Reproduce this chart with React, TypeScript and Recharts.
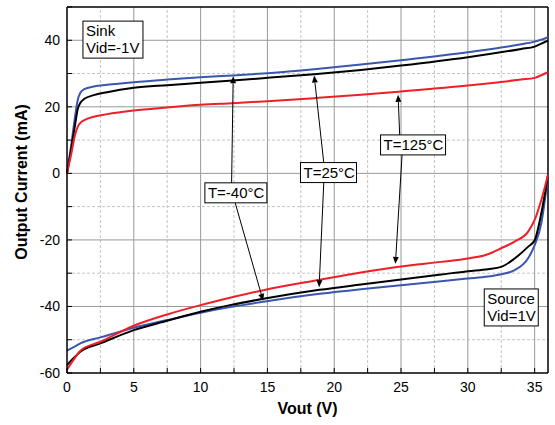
import React from 'react';
import { LineChart, Line, XAxis, YAxis, ReferenceLine, ReferenceDot } from 'recharts';

// Sink branch (Vid=-1V)
const sinkX = [0, 0.3, 0.6, 0.8, 1.0, 1.3, 2, 3, 5, 7.5, 10, 12.4, 15, 18.5, 22, 25, 30, 34, 35, 35.5, 36];
const sinkM40 = [0, 8, 17, 22, 24.2, 25.3, 26.1, 26.6, 27.4, 28.2, 28.9, 29.4, 30.1, 31.3, 32.7, 34, 36.4, 38.8, 39.6, 40.2, 40.9];
const sink25 = [0, 7, 14.5, 19.3, 21.2, 22.4, 23.5, 24.4, 25.7, 26.5, 27.2, 27.9, 28.7, 29.8, 31.1, 32.4, 34.9, 37.4, 38.1, 39, 39.9];
const sink125 = [0, 5.5, 11.5, 14, 15.2, 16, 17, 17.8, 18.9, 19.8, 20.6, 21.1, 21.7, 22.6, 23.6, 24.6, 26.4, 28.2, 28.7, 29.5, 30.4];

// Source branch (Vid=1V)
const sourceX = [0, 0.5, 1, 2.5, 5, 7.5, 10, 12.2, 14.7, 18.9, 22, 25, 28, 30, 31.5, 32.5, 33.5, 34.5, 35, 35.5, 36];
const sourceM40 = [-53.3, -52.2, -51.1, -49.3, -46.4, -44.1, -41.9, -40.2, -38.6, -36.2, -34.8, -33.6, -32.4, -31.6, -31, -30.3, -29.1, -25.6, -21.6, -15, -0.5];
const source25 = [-57.6, -55.5, -53.6, -51.1, -47.1, -44.3, -41.6, -39.6, -37.7, -35, -33.4, -31.9, -30.4, -29.4, -28.8, -28.1, -25.6, -22.1, -20.1, -12, -0.5];
const source125 = [-59, -56, -53.3, -50.6, -45.8, -42.4, -39.6, -37.4, -35.1, -32, -29.8, -28, -26.6, -25.6, -24.3, -22.5, -20.5, -17.6, -14, -8, -0.5];

const xTicks = [0, 2.5, 5, 7.5, 10, 12.5, 15, 17.5, 20, 22.5, 25, 27.5, 30, 32.5, 35];
const yTicks = [-60, -50, -40, -30, -20, -10, 0, 10, 20, 30, 40, 50];
const xMajor = [5, 10, 15, 20, 25, 30, 35];
const xMinor = [2.5, 7.5, 12.5, 17.5, 22.5, 27.5, 32.5];
const yMajor = [-40, -20, 0, 20, 40];
const yMinor = [-50, -30, -10, 10, 30];

const notes = [
  { x: 3.44, y: 40.2, w: 60, lines: ['Sink', 'Vid=-1V'] },
  { x: 33.25, y: -40.3, w: 54, lines: ['Source', 'Vid=1V'] },
  { x: 12.64, y: -5.85, w: 62, lines: ['T=-40°C'] },
  { x: 19.57, y: 0.24, w: 56, lines: ['T=25°C'] },
  { x: 25.9, y: 8.55, w: 65, lines: ['T=125°C'] },
];

const arrows = [
  { from: [12.32, -3.0], to: [12.44, 29.2] },
  { from: [12.57, -8.6], to: [14.68, -38.3] },
  { from: [19.22, 3.1], to: [18.5, 29.4] },
  { from: [19.22, -2.6], to: [18.87, -34.2] },
  { from: [24.9, 11.4], to: [24.78, 23.6] },
  { from: [25.08, 5.7], to: [24.58, -27.2] },
];

const toRows = (xs: number[], ys: number[]) => xs.map((x, i) => ({ x, y: ys[i] }));

const FONT = '"Liberation Sans", Arial, sans-serif';
const BLUE = '#3b56ad';
const RED = '#ee1f26';

const ArrowShape = (p: any) => {
  const { x1, y1, x2, y2 } = p;
  const a = Math.atan2(y2 - y1, x2 - x1);
  const L = 7, W = 3;
  const bx = x2 - L * Math.cos(a), by = y2 - L * Math.sin(a);
  const pts = [
    [x2, y2],
    [bx + W * Math.sin(a), by - W * Math.cos(a)],
    [bx - W * Math.sin(a), by + W * Math.cos(a)],
  ].map((q) => q.join(',')).join(' ');
  return (
    <g>
      <line x1={x1} y1={y1} x2={bx} y2={by} stroke="#000" strokeWidth={1} />
      <polygon points={pts} fill="#000" />
    </g>
  );
};

const boxShape = (note: typeof notes[number]) => (p: any) => {
  const lh = 17;
  const h = note.lines.length * lh + 3;
  const { cx, cy } = p;
  return (
    <g>
      <rect x={cx - note.w / 2} y={cy - h / 2} width={note.w} height={h} fill="#fff" stroke="#000" strokeWidth={1} />
      {note.lines.map((t, i) => (
        <text key={i} x={cx - note.w / 2 + 3} y={cy - h / 2 + 15 + i * lh} fontSize={15} fontFamily={FONT} fill="#000">
          {t}
        </text>
      ))}
    </g>
  );
};

const YTitle = (p: any) => {
  const vb = p.viewBox;
  const cx = vb.x + 10;
  const cy = vb.y + vb.height / 2 - 8;
  return (
    <text x={cx} y={cy} transform={`rotate(-90, ${cx}, ${cy})`} textAnchor="middle" fontSize={16} fontWeight="bold" fontFamily={FONT} fill="#000">
      Output Current (mA)
    </text>
  );
};

const XTitle = (p: any) => {
  const vb = p.viewBox;
  return (
    <text x={vb.x + vb.width / 2} y={vb.y + 41} textAnchor="middle" fontSize={16} fontWeight="bold" fontFamily={FONT} fill="#000">
      Vout (V)
    </text>
  );
};

const series = [
  { data: toRows(sinkX, sinkM40), color: BLUE },
  { data: toRows(sinkX, sink25), color: '#000' },
  { data: toRows(sinkX, sink125), color: RED },
  { data: toRows(sourceX, sourceM40), color: BLUE },
  { data: toRows(sourceX, source25), color: '#000' },
  { data: toRows(sourceX, source125), color: RED },
];

export default function App() {
  return (
    <div style={{ position: 'absolute', left: 0, top: 0, width: 555, height: 425, background: '#fff' }}>
      <LineChart width={555} height={425} margin={{ top: 7, right: 7, left: 17, bottom: 12 }}>
        <XAxis
          dataKey="x"
          type="number"
          domain={[0, 36]}
          ticks={xTicks}
          allowDuplicatedCategory={false}
          height={40}
          tickSize={-5}
          tickMargin={14}
          tickFormatter={(v: number) => (v % 5 === 0 ? String(v) : '')}
          tick={{ fontSize: 14, fill: '#000', fontFamily: FONT }}
          axisLine={{ stroke: '#000', strokeWidth: 1.5 }}
          tickLine={{ stroke: '#000' }}
          label={<XTitle />}
        />
        <YAxis
          dataKey="y"
          type="number"
          domain={[-60, 50]}
          ticks={yTicks}
          width={50}
          tickSize={-5}
          tickMargin={12}
          tickFormatter={(v: number) => (v % 20 === 0 ? String(v) : '')}
          tick={{ fontSize: 14, fill: '#000', fontFamily: FONT }}
          axisLine={{ stroke: '#000', strokeWidth: 1.5 }}
          tickLine={{ stroke: '#000' }}
          label={<YTitle />}
        />
        {xMinor.map((v) => (
          <ReferenceLine key={'xm' + v} x={v} stroke="#c4c4c4" strokeDasharray="3 2" />
        ))}
        {yMinor.map((v) => (
          <ReferenceLine key={'ym' + v} y={v} stroke="#c4c4c4" strokeDasharray="3 2" />
        ))}
        {xMajor.map((v) => (
          <ReferenceLine key={'xM' + v} x={v} stroke="#999" />
        ))}
        {yMajor.map((v) => (
          <ReferenceLine key={'yM' + v} y={v} stroke="#999" />
        ))}
        <ReferenceLine x={36} stroke="#000" strokeWidth={1.5} />
        <ReferenceLine y={50} stroke="#000" strokeWidth={1.5} />
        {series.map((s, i) => (
          <Line
            key={i}
            data={s.data}
            dataKey="y"
            type="monotone"
            stroke={s.color}
            strokeWidth={2}
            dot={false}
            activeDot={false}
            isAnimationActive={false}
          />
        ))}
        {arrows.map((a, i) => (
          <ReferenceLine
            key={'ar' + i}
            segment={[{ x: a.from[0], y: a.from[1] }, { x: a.to[0], y: a.to[1] }]}
            shape={ArrowShape}
          />
        ))}
        {notes.map((n, i) => (
          <ReferenceDot key={'n' + i} x={n.x} y={n.y} r={1} shape={boxShape(n)} />
        ))}
      </LineChart>
    </div>
  );
}
